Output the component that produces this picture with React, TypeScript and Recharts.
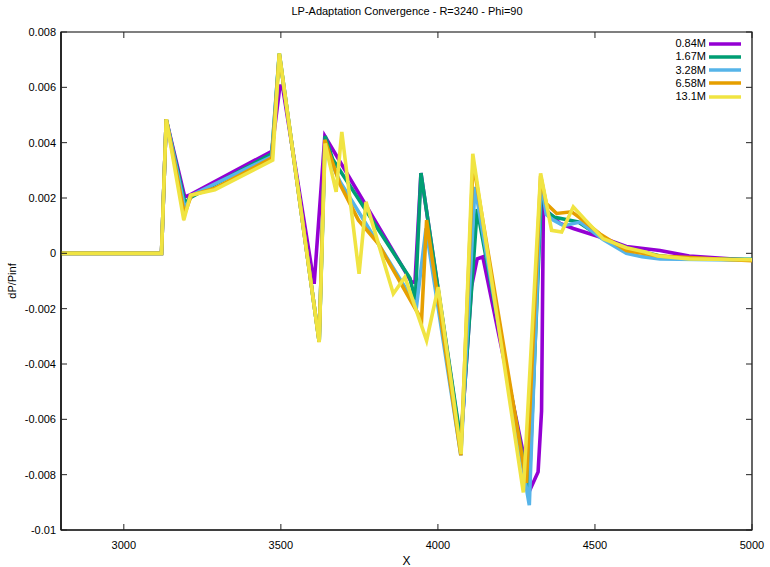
import React from 'react';
import { LineChart, Line, XAxis, YAxis, Legend, ReferenceArea } from 'recharts';

// Pressure perturbation along X for five mesh sizes
const X_084 = [2800, 3120, 3135, 3194, 3208, 3471, 3497, 3505, 3606, 3640, 3916, 3927, 3946, 4073, 4107, 4125, 4143, 4195, 4295, 4319, 4330, 4336, 4350, 4389, 4431, 4516, 4600, 4707, 4800, 5000];
const DP_084 = [0, 0, 0.00484, 0.00204, 0.0021, 0.00369, 0.00605, 0.00605, -0.0011, 0.00424, -0.00104, -0.00104, 0.0029, -0.0069, -0.0012, -0.0002, -0.00013, -0.003, -0.0085, -0.0079, -0.0057, 0.0019, 0.0015, 0.00108, 0.0009, 0.00059, 0.00025, 0.0001, -0.0001, -0.00025];

const X_167 = [2800, 3120, 3135, 3195, 3210, 3471, 3495, 3622, 3641, 3665, 3911, 3928, 3946, 4073, 4125, 4290, 4330, 4348, 4372, 4447, 4526, 4600, 4707, 4800, 5000];
const DP_167 = [0, 0, 0.00484, 0.0018, 0.002, 0.0036, 0.00723, -0.0032, 0.00424, 0.0034, -0.0009, -0.0017, 0.0029, -0.0068, 0.0016, -0.0086, 0.0023, 0.0015, 0.0013, 0.00113, 0.00053, 0.0002, -0.0001, -0.0002, -0.00022];

const X_328 = [2800, 3120, 3135, 3195, 3215, 3471, 3495, 3622, 3640, 3660, 3688, 3932, 3962, 4073, 4118, 4291, 4328, 4345, 4368, 4400, 4453, 4526, 4600, 4650, 4707, 5000];
const DP_328 = [0, 0, 0.00484, 0.0016, 0.0021, 0.0035, 0.0072, -0.0032, 0.004, 0.0033, 0.0026, -0.0019, 0.0009, -0.0073, 0.0024, -0.0091, 0.0026, 0.0014, 0.0012, 0.001, 0.00113, 0.0005, 0.0, -0.00012, -0.0002, -0.00025];

const X_658 = [2800, 3120, 3135, 3193, 3215, 3290, 3472, 3495, 3622, 3640, 3688, 3747, 3810, 3948, 3964, 4073, 4112, 4282, 4327, 4345, 4378, 4426, 4450, 4516, 4600, 4707, 5000];
const DP_658 = [0, 0, 0.00484, 0.0014, 0.0021, 0.00235, 0.00345, 0.0072, -0.0032, 0.0041, 0.0025, 0.0012, 0.00035, -0.0024, 0.0012, -0.0073, 0.0033, -0.0083, 0.0028, 0.0018, 0.00144, 0.0015, 0.0013, 0.0007, 0.0001, -0.0001, -0.00027];

const X_131 = [2800, 3120, 3135, 3191, 3212, 3290, 3474, 3495, 3622, 3641, 3676, 3694, 3749, 3771, 3858, 3895, 3964, 4001, 4074, 4111, 4272, 4327, 4362, 4394, 4431, 4470, 4526, 4600, 4660, 4700, 4800, 5000];
const DP_131 = [0, 0, 0.00484, 0.0012, 0.0021, 0.0023, 0.00337, 0.00723, -0.00321, 0.00397, 0.00222, 0.00439, -0.00074, 0.00186, -0.00146, -0.00086, -0.00315, -0.00122, -0.00725, 0.0036, -0.00864, 0.00289, 0.00083, 0.00077, 0.00168, 0.0012, 0.00053, 0.0002, 0.00005, -0.0001, -0.0002, -0.00023];

const SERIES_NAMES = ['0.84M', '1.67M', '3.28M', '6.58M', '13.1M'];
const SERIES_COLORS = ['#9400D3', '#009E73', '#56B4E9', '#E69F00', '#F0E442'];
const SERIES_X = [X_084, X_167, X_328, X_658, X_131];
const SERIES_DP = [DP_084, DP_167, DP_328, DP_658, DP_131];

const X_TICKS = [3000, 3500, 4000, 4500, 5000];
const Y_TICKS = [-0.01, -0.008, -0.006, -0.004, -0.002, 0, 0.002, 0.004, 0.006, 0.008];

const TITLE = 'LP-Adaptation Convergence - R=3240 - Phi=90';

const W = 770;
const H = 567;
const PLOT_LEFT = 61;
const PLOT_RIGHT = 752;
const PLOT_TOP = 32;
const PLOT_BOTTOM = 530;
const TICK_LEN = 6;
const FONT = '"Liberation Sans", Arial, sans-serif';

const series = SERIES_NAMES.map((name, i) => ({
  name,
  color: SERIES_COLORS[i],
  data: SERIES_X[i].map((x, j) => ({ x, dp: SERIES_DP[i][j] })),
}));

const fmtY = (v: number) => (v === 0 ? '0' : String(Number(v.toFixed(3))));

// Inward ticks on bottom and top borders, label below
const XTick = (props: any) => {
  const { x, payload } = props;
  return (
    <g>
      <line x1={x} y1={PLOT_BOTTOM} x2={x} y2={PLOT_BOTTOM - TICK_LEN} stroke="#222" />
      <line x1={x} y1={PLOT_TOP} x2={x} y2={PLOT_TOP + TICK_LEN} stroke="#222" />
      <text x={x} y={PLOT_BOTTOM + 19} textAnchor="middle" fontFamily={FONT} fontSize={11} fill="#000">
        {payload.value}
      </text>
    </g>
  );
};

// Inward ticks on left and right borders, label to the left
const YTick = (props: any) => {
  const { y, payload } = props;
  return (
    <g>
      <line x1={PLOT_LEFT} y1={y} x2={PLOT_LEFT + TICK_LEN} y2={y} stroke="#222" />
      <line x1={PLOT_RIGHT} y1={y} x2={PLOT_RIGHT - TICK_LEN} y2={y} stroke="#222" />
      <text x={PLOT_LEFT - 5} y={y + 4} textAnchor="end" fontFamily={FONT} fontSize={11} fill="#000">
        {fmtY(payload.value)}
      </text>
    </g>
  );
};

// Key in plotting order: label, then a short line sample
const renderLegend = () => (
  <div style={{ fontFamily: FONT, fontSize: 11, color: '#000' }}>
    {series.map((s) => (
      <div key={s.name} style={{ display: 'flex', alignItems: 'center', height: 13.25 }}>
        <span style={{ width: 66, textAlign: 'right', lineHeight: '13px' }}>{s.name}</span>
        <svg width={36} height={8} style={{ marginLeft: 3, display: 'block' }}>
          <line x1={0} y1={4} x2={32} y2={4} stroke={s.color} strokeWidth={3.5} />
        </svg>
      </div>
    ))}
  </div>
);

export default function App() {
  return (
    <div style={{ position: 'absolute', left: 0, top: 0, width: W, height: H, background: '#fff' }}>
      <div
        style={{
          position: 'absolute',
          top: 5,
          left: 0,
          width: 814,
          textAlign: 'center',
          fontFamily: FONT,
          fontSize: 11,
          color: '#000',
        }}
      >
        {TITLE}
      </div>
      <LineChart width={W} height={H} margin={{ top: PLOT_TOP, right: W - PLOT_RIGHT, bottom: 0, left: 0 }}>
        <ReferenceArea
          x1={2800}
          x2={5000}
          y1={-0.01}
          y2={0.008}
          fill="none"
          fillOpacity={0}
          stroke="#000"
          strokeWidth={1.2}
          ifOverflow="visible"
        />
        <XAxis
          dataKey="x"
          type="number"
          domain={[2800, 5000]}
          ticks={X_TICKS}
          allowDataOverflow
          height={H - PLOT_BOTTOM}
          axisLine={{ stroke: '#000', strokeWidth: 1.2 }}
          tickLine={false}
          tick={<XTick />}
          interval={0}
          label={{ value: 'X', position: 'insideBottom', offset: 2, fontFamily: FONT, fontSize: 12, fill: '#000' }}
        />
        <YAxis
          dataKey="dp"
          type="number"
          domain={[-0.01, 0.008]}
          ticks={Y_TICKS}
          allowDataOverflow
          width={PLOT_LEFT}
          axisLine={{ stroke: '#000', strokeWidth: 1.2 }}
          tickLine={false}
          tick={<YTick />}
          interval={0}
          label={{ value: 'dP/Pinf', angle: -90, position: 'center', dx: -18, fontFamily: FONT, fontSize: 11, fill: '#000' }}
        />
        <Legend
          layout="vertical"
          align="center"
          verticalAlign="middle"
          content={renderLegend}
          wrapperStyle={{ position: 'absolute', left: 640, top: 37, width: 110, height: 70 }}
        />
        {series.map((s) => (
          <Line
            key={s.name}
            name={s.name}
            data={s.data}
            dataKey="dp"
            type="linear"
            stroke={s.color}
            strokeWidth={3.6}
            dot={false}
            activeDot={false}
            isAnimationActive={false}
            legendType="line"
          />
        ))}
      </LineChart>
    </div>
  );
}
